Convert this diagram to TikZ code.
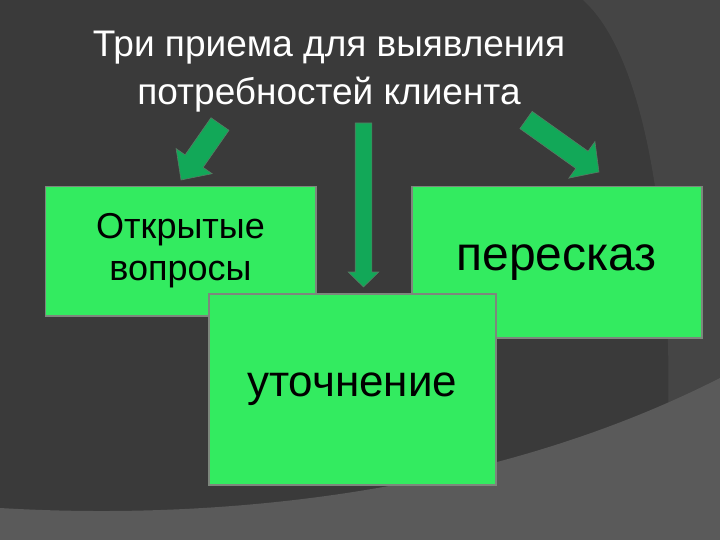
\documentclass[tikz,border=0pt]{standalone}
\usepackage{fontspec}
\setmainfont{Liberation Sans}
\usetikzlibrary{calc}
\definecolor{bgdark}{RGB}{58,58,58}
\definecolor{bgmid}{RGB}{69,69,69}
\definecolor{bglight}{RGB}{90,90,90}
\definecolor{boxgreen}{RGB}{51,235,96}
\definecolor{boxedge}{RGB}{125,135,125}
\definecolor{arrgreen}{RGB}{18,168,88}
\definecolor{arredge}{RGB}{90,120,100}
\tikzset{
  box/.style={draw=boxedge, line width=1.5pt, fill=boxgreen, inner sep=0pt,
    anchor=north west, align=center, text=black},
  arrfill/.style={fill=arrgreen, draw=arredge, line width=0.6pt, line join=miter},
}
\newcommand\blkarr[5]{%
  \coordinate (ba) at ($(#2)!#5!(#1)$);
  \filldraw[arrfill] ($(#1)!#3!90:(#2)$) -- ($(ba)!#3!-90:(#1)$) -- ($(ba)!#4!-90:(#1)$)
    -- (#2) -- ($(ba)!#4!90:(#1)$) -- ($(ba)!#3!90:(#1)$) -- ($(#1)!#3!-90:(#2)$) -- cycle;}
\begin{document}
\begin{tikzpicture}[x=1pt,y=-1pt]
\useasboundingbox (0,0) rectangle (720,540);
% background
\fill[bgdark] (0,0) rectangle (720,540);
\fill[bgmid] (583,0) .. controls (650,60) and (672,250) .. (668,420) -- (720,420) -- (720,0) -- cycle;
\fill[bglight] (0,508) .. controls (200,520) and (480,500) .. (720,378) -- (720,540) -- (0,540) -- cycle;
% title
\node[text=white, align=center, font=\fontsize{37}{48}\selectfont, anchor=base] (title) at (329,105)
  {Три приема для выявления\\потребностей клиента};
% boxes
\node[box, minimum width=270.5pt, minimum height=129pt, font=\fontsize{36}{43}\selectfont] (open) at (44.5,186)
  {\raisebox{-2.5pt}{\begin{tabular}{@{}c@{}}Открытые\\[-1pt]вопросы\end{tabular}}};
\node[box, minimum width=290pt, minimum height=151pt, font=\fontsize{48}{56}\selectfont] (retell) at (411,186)
  {\raisebox{-6pt}{пересказ}};
\node[box, minimum width=287pt, minimum height=191pt, font=\fontsize{44}{52}\selectfont] (clarify) at (208,293)
  {\raisebox{-7pt}{уточнение}};
% arrows
\coordinate (la0) at (220,124); \coordinate (la1) at (181,180);
\coordinate (ca0) at (363.5,123); \coordinate (ca1) at (363.5,287);
\coordinate (ra0) at (526,120); \coordinate (ra1) at (599,172);
\blkarr{la0}{la1}{11pt}{22pt}{23pt}
\blkarr{ca0}{ca1}{8.3pt}{15.3pt}{15pt}
\blkarr{ra0}{ra1}{10.6pt}{22.5pt}{21pt}
\end{tikzpicture}
\end{document}
